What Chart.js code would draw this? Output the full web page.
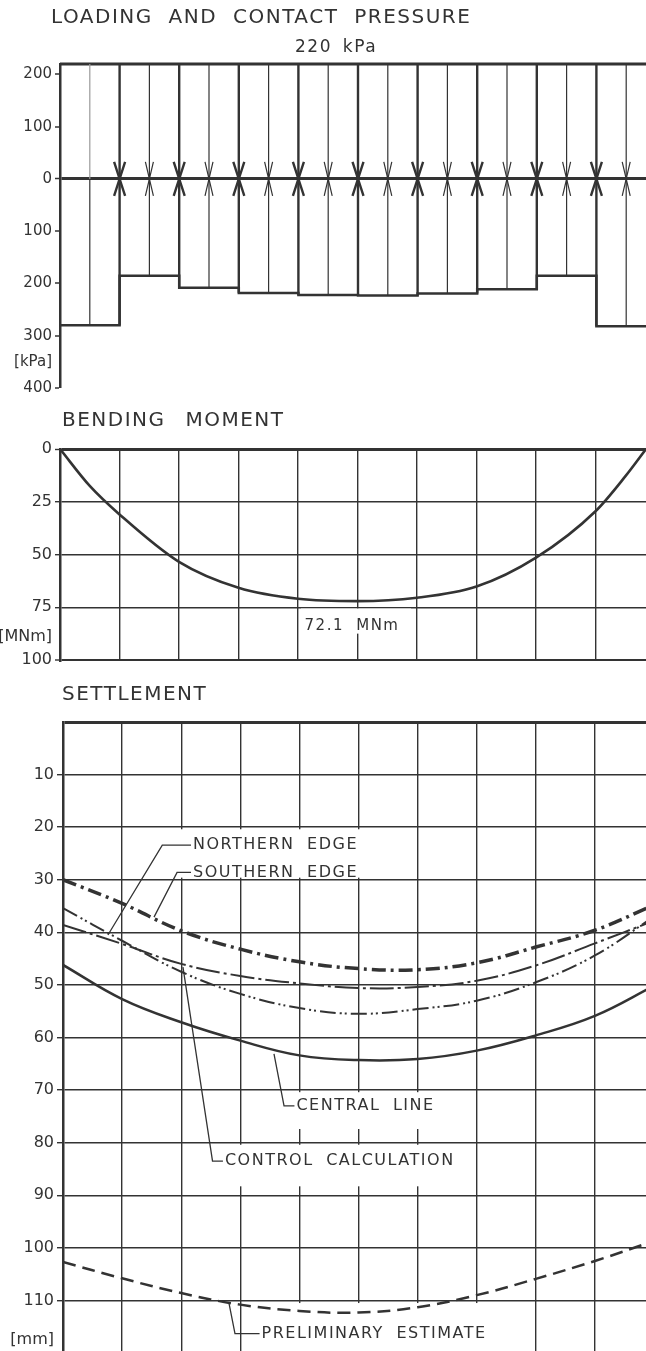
<!DOCTYPE html>
<html>
<head>
<meta charset="utf-8">
<script src="https://cdn.jsdelivr.net/npm/chart.js@4.4.0/dist/chart.umd.min.js"></script>
<style>
  html, body { margin: 0; padding: 0; background: #fff; overflow: hidden; width: 646px; height: 1351px; }
  canvas { position: absolute; left: 0; }
  .title {
    position: absolute; font-family: "DejaVu Sans", sans-serif; color: #333;
    line-height: 1; white-space: nowrap; letter-spacing: 1.5px; word-spacing: 8px;
  }
</style>
</head>
<body>
<canvas id="pressure" style="top:0px;width:660px;height:400px" width="660" height="400"></canvas>
<canvas id="moment" style="top:400px;width:660px;height:280px" width="660" height="280"></canvas>
<canvas id="settlement" style="top:680px;width:660px;height:690px" width="660" height="690"></canvas>

<div class="title" style="left:51px;top:6px;font-size:20px">LOADING AND CONTACT PRESSURE</div>
<div class="title" style="left:295px;top:38px;font-size:17px;word-spacing:4px">220 kPa</div>
<div class="title" style="left:62px;top:409px;font-size:20px;word-spacing:12px">BENDING MOMENT</div>
<div class="title" style="left:62px;top:683px;font-size:20px">SETTLEMENT</div>

<script>
// ---- stations along the raft (one unit = one load strip) ----
const stations = [0, 1, 2, 3, 4, 5, 6, 7, 8, 9, 10];

// ---- loading and contact pressure [kPa] ----
const appliedLoad = 220;
const blockPressure = [280, 185, 208, 218, 222, 223, 219, 211, 185, 282];
const pressureTicks = [200, 100, 0, -100, -200, -300, -350, -400];
const pressureUnitTick = -350;

// ---- bending moment [MNm] ----
const momentStations = [0, 0.5, 1, 2, 3, 4, 5, 6, 7, 8, 9, 9.5, 9.85];
const bendingMoment  = [0, 17.5, 31, 53.5, 65.8, 71, 72.1, 70.5, 65.2, 51.5, 29.5, 13, 0];
const peakMoment = 72.1;
const momentTicks = [0, 25, 50, 75, 89, 100];
const momentUnitTick = 89;

// ---- settlement [mm] ----
const southernEdge   = [30.0, 34.5, 39.7, 43.2, 45.6, 46.9, 47.1, 45.8, 42.8, 39.6, 34.8];
const northernEdge   = [35.4, 41.6, 47.5, 51.7, 54.4, 55.5, 54.6, 53.0, 49.5, 44.4, 37.0];
const controlCalc    = [38.6, 42.2, 46.0, 48.3, 49.7, 50.6, 50.4, 49.2, 46.3, 42.1, 37.8];
const centralLine    = [46.2, 52.7, 57.1, 60.6, 63.4, 64.3, 64.1, 62.5, 59.6, 55.9, 50.2];
const preliminary    = [102.7, 105.8, 108.6, 110.8, 112.0, 112.3, 111.3, 109.0, 105.9, 102.5, 98.7];
const settlementTicks = [0, 10, 20, 30, 40, 50, 60, 70, 80, 90, 100, 110, 117.5];
const settlementUnitTick = 117.5;

// ---- drawing style ----
const INK = '#333';
const FONT = '"DejaVu Sans", sans-serif';
const NONE = 'rgba(0,0,0,0)';

Chart.defaults.animation = false;
Chart.defaults.responsive = false;
Chart.defaults.plugins.legend.display = false;
Chart.defaults.plugins.tooltip.enabled = false;
Chart.defaults.font.family = FONT;
Chart.defaults.color = INK;

const xy = (xs, ys) => xs.map((s, i) => ({ x: s, y: ys[i] }));
const tickVal = c => (c.tick ? c.tick.value : null);

function yAxis(opts) {
  return Object.assign({
    type: 'linear',
    afterFit(s) { s.width = opts.width; },
    afterBuildTicks(s) { s.ticks = opts.ticks.map(v => ({ value: v })); },
    ticks: {
      autoSkip: false, padding: 3, color: INK,
      font: { family: FONT, size: opts.fontSize },
      callback: opts.label
    },
    grid: opts.grid,
    border: { display: true, color: INK, width: 2.5 }
  }, opts.range);
}

function stationAxis() {
  return {
    type: 'linear', min: 0, max: 10,
    ticks: { display: false, stepSize: 1 },
    grid: {
      drawTicks: false, color: INK,
      lineWidth: c => (tickVal(c) === 0 ? 0 : 1.4)
    },
    border: { display: false }
  };
}

function drawText(ctx, text, x, y, size) {
  ctx.font = size + 'px ' + FONT;
  ctx.letterSpacing = '1.5px';
  ctx.wordSpacing = '6px';
  ctx.fillStyle = INK;
  ctx.textAlign = 'left';
  ctx.textBaseline = 'middle';
  ctx.fillText(text, x, y);
}

// ================= LOADING AND CONTACT PRESSURE =================
// Load arrows (down, above zero) and contact-pressure arrows (up, below zero)
const loadArrows = {
  id: 'loadArrows',
  afterDatasetsDraw(chart) {
    const { ctx, scales: { x, y } } = chart;
    const y0 = y.getPixelForValue(0);
    const yTop = y.getPixelForValue(appliedLoad);
    ctx.save();
    ctx.lineCap = 'butt';
    ctx.lineJoin = 'miter';
    for (let k = 1; k < blockPressure.length * 2; k++) {
      const s = k / 2;
      const boundary = k % 2 === 0;
      const depth = boundary
        ? Math.max(blockPressure[s - 1], blockPressure[s])
        : blockPressure[Math.floor(s)];
      const px = x.getPixelForValue(s);
      const yBottom = y.getPixelForValue(-depth);
      ctx.lineWidth = boundary ? 2.4 : 1.2;
      if (k === 1) {
        // end strip: faint load line, plain pressure line, no heads
        ctx.strokeStyle = '#9a9a9a';
        ctx.beginPath(); ctx.moveTo(px, yTop); ctx.lineTo(px, y0); ctx.stroke();
        ctx.strokeStyle = INK;
        ctx.beginPath(); ctx.moveTo(px, y0); ctx.lineTo(px, yBottom); ctx.stroke();
        continue;
      }
      ctx.strokeStyle = INK;
      ctx.beginPath(); ctx.moveTo(px, yTop); ctx.lineTo(px, yBottom); ctx.stroke();
      const hw = boundary ? 5.5 : 4;
      const h = 17;
      ctx.beginPath();
      ctx.moveTo(px - hw, y0 - h); ctx.lineTo(px, y0); ctx.lineTo(px + hw, y0 - h);
      ctx.moveTo(px - hw, y0 + h); ctx.lineTo(px, y0); ctx.lineTo(px + hw, y0 + h);
      ctx.stroke();
    }
    ctx.restore();
  }
};

const contactOutline = stations.map((s, i) => ({
  x: s, y: -blockPressure[Math.min(i, blockPressure.length - 1)]
}));

new Chart(document.getElementById('pressure'), {
  type: 'line',
  data: {
    datasets: [
      { data: contactOutline, stepped: true, borderColor: INK, borderWidth: 2.5, pointRadius: 0, clip: 4 },
      { data: [{ x: 0, y: appliedLoad }, { x: 10, y: appliedLoad }], borderColor: INK, borderWidth: 3, pointRadius: 0, clip: 4 }
    ]
  },
  options: {
    parsing: false,
    layout: { padding: { top: 64, bottom: 12, left: 0, right: 4 } },
    scales: {
      x: { type: 'linear', min: 0, max: 10, display: false },
      y: yAxis({
        width: 60, fontSize: 15, ticks: pressureTicks,
        range: { min: -400, max: appliedLoad },
        label: v => (v === pressureUnitTick ? '[kPa]' : String(Math.abs(v))),
        grid: {
          color: c => (tickVal(c) === 0 ? INK : NONE),
          lineWidth: c => (tickVal(c) === 0 ? 3 : 0),
          tickLength: 5, tickWidth: 1.5,
          tickColor: c => (tickVal(c) === pressureUnitTick ? NONE : INK)
        }
      })
    }
  },
  plugins: [loadArrows]
});

// ================= BENDING MOMENT =================
const momentNote = {
  id: 'momentNote',
  beforeDatasetsDraw(chart) {
    const { ctx, scales: { x, y } } = chart;
    const l = x.getPixelForValue(4.05), r = x.getPixelForValue(5.9);
    const t = y.getPixelForValue(75.6), b = y.getPixelForValue(87.5);
    ctx.save();
    ctx.fillStyle = '#fff';
    ctx.fillRect(l, t, r - l, b - t);
    ctx.restore();
  },
  afterDatasetsDraw(chart) {
    const { ctx, scales: { x, y } } = chart;
    ctx.save();
    drawText(ctx, peakMoment.toFixed(1) + ' MNm', x.getPixelForValue(4.11), y.getPixelForValue(83.9), 15);
    ctx.restore();
  }
};

new Chart(document.getElementById('moment'), {
  type: 'line',
  data: {
    datasets: [
      { data: xy(momentStations, bendingMoment), borderColor: INK, borderWidth: 2.6, pointRadius: 0,
        cubicInterpolationMode: 'monotone' }
    ]
  },
  options: {
    parsing: false,
    layout: { padding: { top: 49, bottom: 20, left: 0, right: 5 } },
    scales: {
      x: stationAxis(),
      y: yAxis({
        width: 60, fontSize: 16, ticks: momentTicks,
        range: { min: 0, max: 100, reverse: true },
        label: v => (v === momentUnitTick ? '[MNm]' : String(v)),
        grid: {
          color: c => (tickVal(c) === momentUnitTick ? NONE : INK),
          lineWidth: c => (tickVal(c) === 0 ? 3 : tickVal(c) === 100 ? 2 : 1.4),
          tickLength: 5, tickWidth: 1.4,
          tickColor: c => (tickVal(c) === momentUnitTick ? NONE : INK)
        }
      })
    }
  },
  plugins: [momentNote]
});

// ================= SETTLEMENT =================
const settlementNotes = [
  { text: 'NORTHERN EDGE',        at: [2.2, 23.4],   corner: [1.68, 23.4],  end: [0.76, 40.5] },
  { text: 'SOUTHERN EDGE',        at: [2.2, 28.6],   corner: [1.93, 28.6],  end: [1.54, 37.1] },
  { text: 'CENTRAL LINE',         at: [3.95, 73.0],  corner: [3.74, 73.0],  end: [3.57, 63.1] },
  { text: 'CONTROL CALCULATION',  at: [2.74, 83.5],  corner: [2.53, 83.5],  end: [2.03, 46.6] },
  { text: 'PRELIMINARY ESTIMATE', at: [3.36, 116.3], corner: [2.91, 116.3], end: [2.81, 110.6] }
];
// white backing behind the labels: [fromStation, toStation, fromMm, toMm]
const labelBacking = [
  [1.95, 5.15, 20.4, 29.6],
  [3.67, 6.45, 70.4, 77.4],
  [2.57, 6.8, 80.4, 88.3],
  [3.22, 7.5, 110.5, 121]
];

const settlementLabels = {
  id: 'settlementLabels',
  beforeDatasetsDraw(chart) {
    const { ctx, scales: { x, y } } = chart;
    ctx.save();
    ctx.fillStyle = '#fff';
    labelBacking.forEach(([a, b, c, d]) => {
      const l = x.getPixelForValue(a), r = x.getPixelForValue(b);
      const t = y.getPixelForValue(c), btm = y.getPixelForValue(d);
      ctx.fillRect(l, t, r - l, btm - t);
    });
    ctx.restore();
  },
  afterDatasetsDraw(chart) {
    const { ctx, scales: { x, y } } = chart;
    ctx.save();
    settlementNotes.forEach(n => {
      const tx = x.getPixelForValue(n.at[0]), ty = y.getPixelForValue(n.at[1]);
      ctx.strokeStyle = INK;
      ctx.lineWidth = 1.3;
      ctx.beginPath();
      ctx.moveTo(tx - 2, ty);
      ctx.lineTo(x.getPixelForValue(n.corner[0]), y.getPixelForValue(n.corner[1]));
      ctx.lineTo(x.getPixelForValue(n.end[0]), y.getPixelForValue(n.end[1]));
      ctx.stroke();
      drawText(ctx, n.text, tx, ty, 16);
    });
    ctx.restore();
  }
};

const curve = (values, width, dash) => ({
  data: xy(stations, values), borderColor: INK, borderWidth: width,
  borderDash: dash, pointRadius: 0, tension: 0.4, borderCapStyle: 'butt'
});

new Chart(document.getElementById('settlement'), {
  type: 'line',
  data: {
    datasets: [
      curve(southernEdge, 3.5, [14, 5, 3, 5]),
      curve(northernEdge, 2, [16, 4, 2, 3, 2, 4]),
      curve(controlCalc, 2, [24, 4, 3, 4]),
      curve(centralLine, 2.5, []),
      curve(preliminary, 2.5, [13, 7])
    ]
  },
  options: {
    parsing: false,
    layout: { padding: { top: 42, bottom: 17, left: 0, right: 6 } },
    scales: {
      x: stationAxis(),
      y: yAxis({
        width: 63, fontSize: 16, ticks: settlementTicks,
        range: { min: 0, max: 120, reverse: true },
        label: v => (v === settlementUnitTick ? '[mm]' : v === 0 ? '' : String(v)),
        grid: {
          color: c => (tickVal(c) === settlementUnitTick ? NONE : INK),
          lineWidth: c => (tickVal(c) === 0 ? 3 : 1.4),
          tickLength: 6, tickWidth: 1.4,
          tickColor: c => (tickVal(c) === settlementUnitTick || tickVal(c) === 0 ? NONE : INK)
        }
      })
    }
  },
  plugins: [settlementLabels]
});
</script>
</body>
</html>
